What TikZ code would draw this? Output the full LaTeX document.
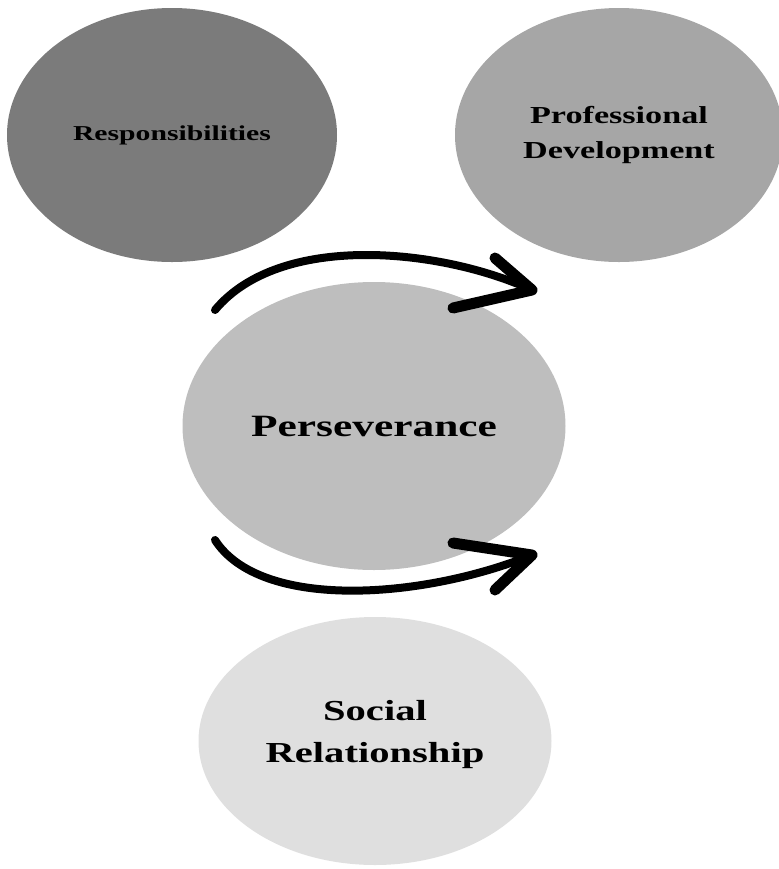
\documentclass[tikz,border=0pt]{standalone}
\usepackage{fontspec}
\usepackage{xcolor}
\usepackage{tikz}
\usetikzlibrary{shapes.geometric}
\newfontfamily\ovalfont{Liberation Serif}[FakeStretch=1.4]
\definecolor{resp}{HTML}{7B7B7B}
\definecolor{prof}{HTML}{A6A6A6}
\definecolor{pers}{HTML}{BEBEBE}
\definecolor{soc}{HTML}{DFDFDF}

\begin{document}
\begin{tikzpicture}[x=0.5pt,y=-0.5pt,
  oval/.style={ellipse,inner sep=0pt,align=center},
  sweep/.style={line width=4pt,line cap=round},
  barb/.style={line width=5.5pt,line cap=round,line join=round}]
\useasboundingbox (0,0) rectangle (778,869);
% top row
\node[oval,fill=resp,minimum width=165pt,minimum height=127pt,font={\ovalfont\bfseries\fontsize{10.6}{13}\selectfont}] (res) at (172,135) {Responsibilities};
\node[oval,fill=prof,minimum width=164pt,minimum height=127pt,font={\ovalfont\bfseries\fontsize{12.2}{17.5}\selectfont}] (pro) at (619,135) {Professional\\Development};
% middle
\node[oval,fill=pers,minimum width=191.5pt,minimum height=144pt,font={\ovalfont\bfseries\fontsize{15.5}{18}\selectfont}] (per) at (374,426) {Perseverance};
% bottom (strut pushes the two lines a bit up)
\node[oval,fill=soc,minimum width=176.5pt,minimum height=124pt,font={\ovalfont\bfseries\fontsize{14.5}{21}\selectfont}] (soc) at (375,741) {Social\\Relationship\rule[-10pt]{0pt}{10pt}};
% arrows
\coordinate (a1) at (215,310);
\coordinate (a2) at (532,290);
\draw[sweep] (a1) .. controls (280,232) and (440,248) .. (a2);
\draw[barb] (a2) ++(-37,-32) -- (a2) -- ++(-79,18);
\coordinate (b1) at (215,540);
\coordinate (b2) at (532,555);
\draw[sweep] (b1) .. controls (260,610) and (420,600) .. (b2);
\draw[barb] (b2) ++(-79,-12) -- (b2) -- ++(-37,35);
\end{tikzpicture}
\end{document}
